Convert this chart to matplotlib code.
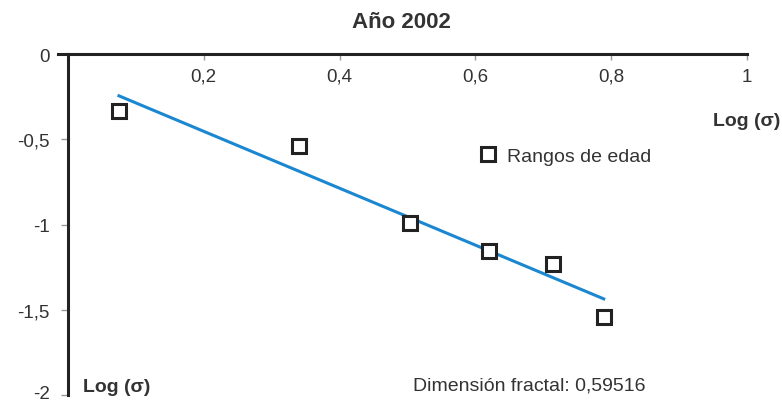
#!/usr/bin/env python3
"""Dimension fractal por rangos de edad, ano 2002: log-log con recta de ajuste."""

import matplotlib

matplotlib.use("Agg")

import matplotlib.pyplot as plt
import matplotlib.transforms as mtransforms
import numpy as np

# Datos.
log_x = [0.075, 0.340, 0.504, 0.620, 0.714, 0.789]
log_y = [-0.334, -0.540, -0.991, -1.155, -1.232, -1.543]

x_ticks = [0.2, 0.4, 0.6, 0.8, 1.0]
x_labels = ["0,2", "0,4", "0,6", "0,8", "1"]
y_ticks = [0, -0.5, -1, -1.5, -2]
y_labels = ["0", "-0,5", "-1", "-1,5", "-2"]

C_TEXT = "#333333"
C_AXIS = "#222222"
C_TICK = "#9a9a9a"
C_LINE = "#1b87d0"
FONT = ["Liberation Sans", "DejaVu Sans"]

W, H = 782, 402


def main():
    plt.rcParams["font.family"] = FONT
    fig = plt.figure(figsize=(W / 100, H / 100), dpi=100)
    ax = fig.add_axes([68 / W, 6 / H, 679 / W, 341 / H])

    xs = np.array(log_x)
    ys = np.array(log_y)
    slope, icpt = np.polyfit(xs, ys, 1)
    xf = np.array([xs.min(), xs.max()])
    ax.plot(xf, slope * xf + icpt, color=C_LINE, lw=2.2, zorder=2)

    ax.plot(
        xs, ys, ls="none", marker="s", ms=10, mfc="white", mec=C_AXIS,
        mew=2.2, label="Rangos de edad", zorder=3,
    )

    ax.set_xlim(0, 1)
    ax.set_ylim(-2, 0)

    # Eje x en y=0 (arriba), etiquetas por debajo.
    ax.spines["top"].set_visible(False)
    ax.spines["right"].set_visible(False)
    ax.spines["bottom"].set_position(("data", 0))
    ax.spines["bottom"].set_bounds(-0.015, 1.0)
    for s in ("bottom", "left"):
        ax.spines[s].set_color(C_AXIS)
        ax.spines[s].set_linewidth(2.2)

    ax.set_xticks(x_ticks)
    ax.set_xticklabels(x_labels)
    ax.set_yticks(y_ticks)
    ax.set_yticklabels(y_labels)
    ax.tick_params(axis="x", direction="out", length=4, width=1, color=C_TICK,
                   pad=6, labelsize=13.5, labelcolor=C_TEXT)
    ax.tick_params(axis="y", direction="out", length=5, width=1, color=C_TICK,
                   pad=8, labelsize=13.5, labelcolor=C_TEXT)

    # El "-2" queda pegado al borde inferior: subirlo un poco.
    lab = ax.get_yticklabels()[-1]
    lab.set_transform(lab.get_transform()
                      + mtransforms.ScaledTranslation(0, 3 / 100, fig.dpi_scale_trans))

    ax.legend(
        loc="center left", bbox_to_anchor=(0.607, 0.701), frameon=False,
        borderpad=0, borderaxespad=0, handlelength=0.8, handletextpad=0.57,
        fontsize=14, labelcolor=C_TEXT,
    )

    ax.text(0.022, -1.953, "Log (σ)", ha="left", va="center", fontsize=14,
            fontweight="bold", color=C_TEXT)
    ax.text(0.508, -1.941, "Dimensión fractal: 0,59516", ha="left", va="center",
            fontsize=14, color=C_TEXT)

    fig.text(401 / W, 1 - 22 / H, "Año 2002", ha="center", va="center",
             fontsize=16, fontweight="bold", color=C_TEXT)
    fig.text(780 / W, 1 - 122 / H, "Log (σ)", ha="right", va="center",
             fontsize=14, fontweight="bold", color=C_TEXT)

    fig.savefig("out.png", dpi=100, facecolor="white")
    plt.close(fig)


if __name__ == "__main__":
    main()
